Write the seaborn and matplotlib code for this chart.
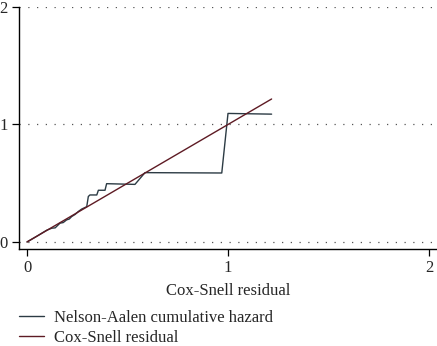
import numpy as np
import pandas as pd
import matplotlib
matplotlib.use("Agg")
import matplotlib.pyplot as plt
import seaborn as sns

# Nelson-Aalen cumulative hazard vs Cox-Snell residual
cs_resid = [0.0, 0.05, 0.098, 0.123, 0.14, 0.164, 0.18, 0.197, 0.21, 0.222,
            0.24, 0.255, 0.272, 0.297, 0.305, 0.313, 0.347, 0.355, 0.388,
            0.396, 0.537, 0.587, 0.969, 1.0, 1.217]
na_hazard = [0.0, 0.05, 0.10, 0.117, 0.12, 0.16, 0.165, 0.188, 0.195, 0.216,
             0.235, 0.259, 0.28, 0.30, 0.387, 0.40, 0.40, 0.44, 0.44,
             0.496, 0.49, 0.59, 0.587, 1.094, 1.088]
ref_x = [0.0, 1.217]
ref_y = [0.0, 1.217]

na_col = "#2c3b44"
cs_col = "#5e1b24"

sns.set_style("ticks")
plt.rcParams['font.family'] = ['Liberation Serif', 'DejaVu Serif']

fig = plt.figure(figsize=(4.37, 3.46), dpi=100)
ax = fig.add_axes([19/437, 1-249/346, 1-19/437, 242/346])

df_na = pd.DataFrame({'x': cs_resid, 'y': na_hazard})
df_cs = pd.DataFrame({'x': ref_x, 'y': ref_y})
sns.lineplot(data=df_na, x='x', y='y', sort=False, color=na_col, lw=1.0,
             ax=ax, label='Nelson-Aalen cumulative hazard')
sns.lineplot(data=df_cs, x='x', y='y', sort=False, color=cs_col, lw=1.0,
             ax=ax, label='Cox-Snell residual')

for yv in [0, 1, 2]:
    ax.axhline(yv, color='#555555', lw=0.9, ls=(0, (1, 6)), zorder=0)

ax.set_xlim(-0.04, 2.04)
ax.set_ylim(-0.06, 2.0)
ax.set_xticks([0, 1, 2])
ax.set_yticks([0, 1, 2])
ax.tick_params(labelsize=12, length=5, width=0.9, color='black', pad=3)
ax.set_xlabel('Cox-Snell residual', fontsize=12, labelpad=5)
ax.set_ylabel('')
for s in ['top', 'right']:
    ax.spines[s].set_visible(False)
for s in ['left', 'bottom']:
    ax.spines[s].set_linewidth(1.0)
    ax.spines[s].set_color('black')

h, l = ax.get_legend_handles_labels()
ax.get_legend().remove()
fig.legend(h, l, loc='upper left', bbox_to_anchor=(0.031, 1-305/346),
           frameon=False, fontsize=12, handlelength=1.55,
           handletextpad=0.6, labelspacing=0.25, borderaxespad=0,
           borderpad=0.3)

fig.savefig('out.png', dpi=100)
